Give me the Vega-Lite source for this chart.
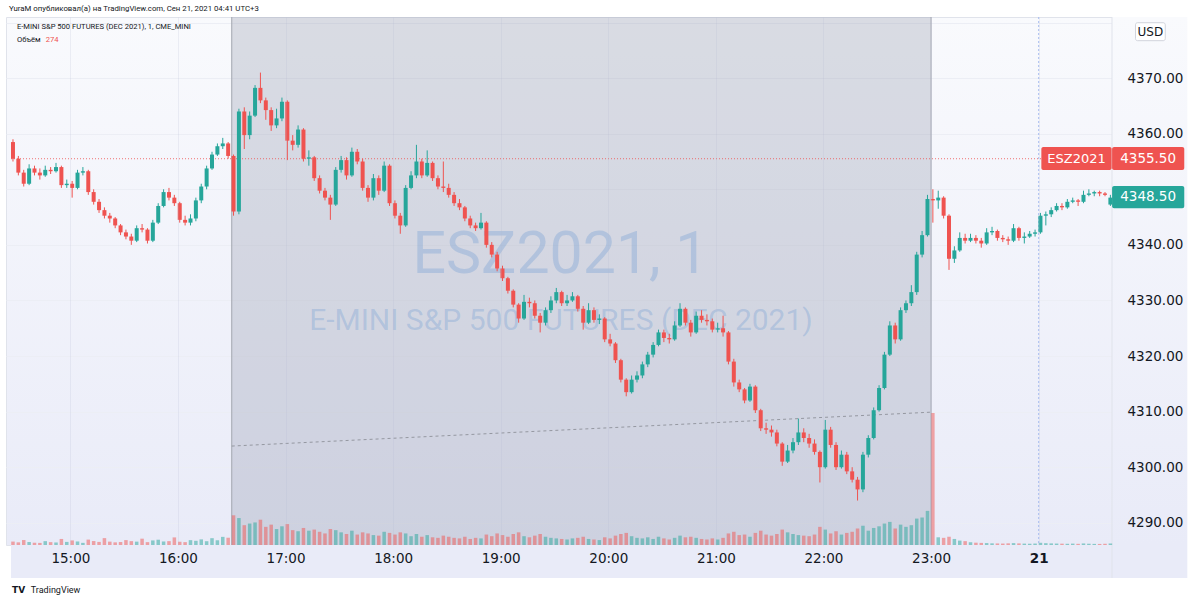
{
"$schema":"https://vega.github.io/schema/vega-lite/v6.json",
"width":1111,"height":528,
"autosize":{"type":"none"},
"padding":{"left":6,"top":17,"right":83,"bottom":56},
"background":"#ffffff",
"config":{"view":{"fill":{"gradient":"linear","x1":0,"y1":0,"x2":0,"y2":1,"stops":[{"offset":0,"color":"#f9fafd"},{"offset":1,"color":"#e9ebf8"}]},"stroke":"#e0e3eb"},"font":"DejaVu Sans"},
"resolve":{"scale":{"y":"independent"}},
"datasets":{
"one":[{}],
"trend":[{"m":150,"p":4303.8},{"m":540,"p":4309.9}],
"candles":[
{"m":28,"o":4358.5,"h":4359,"l":4355,"c":4355.5,"v":620},
{"m":31,"o":4355.5,"h":4356,"l":4352.5,"c":4353,"v":480},
{"m":34,"o":4353,"h":4353.5,"l":4350.5,"c":4351,"v":900},
{"m":37,"o":4351,"h":4354.5,"l":4350.75,"c":4353.75,"v":540},
{"m":40,"o":4353.75,"h":4354.25,"l":4352.5,"c":4353,"v":410},
{"m":43,"o":4353,"h":4353.75,"l":4351.75,"c":4352.5,"v":380},
{"m":46,"o":4352.5,"h":4354.25,"l":4352.25,"c":4353.5,"v":700},
{"m":49,"o":4353.5,"h":4354,"l":4352.75,"c":4353.25,"v":520},
{"m":52,"o":4353.25,"h":4354.75,"l":4353,"c":4354,"v":460},
{"m":55,"o":4354,"h":4354.25,"l":4350.25,"c":4350.75,"v":1100},
{"m":58,"o":4350.75,"h":4351.75,"l":4350.25,"c":4351,"v":560},
{"m":61,"o":4351,"h":4351.5,"l":4348.5,"c":4350.25,"v":830},
{"m":64,"o":4350.25,"h":4353.5,"l":4350,"c":4353,"v":640},
{"m":67,"o":4353,"h":4354,"l":4352.5,"c":4353.25,"v":390},
{"m":70,"o":4353.25,"h":4353.5,"l":4349,"c":4349.5,"v":980},
{"m":73,"o":4349.5,"h":4350,"l":4347.25,"c":4347.75,"v":720},
{"m":76,"o":4347.75,"h":4348.25,"l":4345.75,"c":4346.25,"v":560},
{"m":79,"o":4346.25,"h":4346.75,"l":4344.75,"c":4345.25,"v":1250},
{"m":82,"o":4345.25,"h":4345.75,"l":4344,"c":4344.75,"v":610},
{"m":85,"o":4344.75,"h":4345,"l":4343,"c":4343.5,"v":480},
{"m":88,"o":4343.5,"h":4343.75,"l":4341.75,"c":4342.25,"v":540},
{"m":91,"o":4342.25,"h":4342.75,"l":4341,"c":4341.5,"v":890},
{"m":94,"o":4341.5,"h":4342,"l":4340,"c":4340.75,"v":700},
{"m":97,"o":4340.75,"h":4343.5,"l":4340.5,"c":4343,"v":610},
{"m":100,"o":4343,"h":4343.75,"l":4342.25,"c":4342.75,"v":1150},
{"m":103,"o":4342.75,"h":4343,"l":4340.25,"c":4340.75,"v":520},
{"m":106,"o":4340.75,"h":4344.5,"l":4340.5,"c":4344,"v":830},
{"m":109,"o":4344,"h":4347.5,"l":4343.75,"c":4347,"v":960},
{"m":112,"o":4347,"h":4350,"l":4346.75,"c":4349.5,"v":640},
{"m":115,"o":4349.5,"h":4350.25,"l":4348,"c":4348.5,"v":700},
{"m":118,"o":4348.5,"h":4349,"l":4347,"c":4347.5,"v":1380},
{"m":121,"o":4347.5,"h":4347.75,"l":4344,"c":4344.5,"v":590},
{"m":124,"o":4344.5,"h":4345.25,"l":4343.5,"c":4344,"v":520},
{"m":127,"o":4344,"h":4345.5,"l":4343.5,"c":4344.75,"v":880},
{"m":130,"o":4344.75,"h":4348.5,"l":4344.25,"c":4348,"v":760},
{"m":133,"o":4348,"h":4351,"l":4347.5,"c":4350.5,"v":1020},
{"m":136,"o":4350.5,"h":4354.25,"l":4350,"c":4353.75,"v":690},
{"m":139,"o":4353.75,"h":4356.75,"l":4353.5,"c":4356.25,"v":1240},
{"m":142,"o":4356.25,"h":4358.25,"l":4356,"c":4357.75,"v":860},
{"m":145,"o":4357.75,"h":4359.25,"l":4357.25,"c":4358.25,"v":1480},
{"m":148,"o":4358.25,"h":4358.5,"l":4355.5,"c":4356,"v":1320},
{"m":151,"o":4356,"h":4356.25,"l":4345.25,"c":4346,"v":5400},
{"m":154,"o":4346,"h":4364.5,"l":4345.5,"c":4364,"v":4900},
{"m":157,"o":4364,"h":4364.75,"l":4357.25,"c":4359.75,"v":3600},
{"m":160,"o":4359.75,"h":4364,"l":4359,"c":4363.25,"v":3900},
{"m":163,"o":4363.25,"h":4368.75,"l":4363,"c":4368.25,"v":4100},
{"m":166,"o":4368.25,"h":4371,"l":4365.5,"c":4366,"v":4600},
{"m":169,"o":4366,"h":4366.5,"l":4362.5,"c":4364.25,"v":3300},
{"m":172,"o":4364.25,"h":4364.75,"l":4360.5,"c":4361.5,"v":3700},
{"m":175,"o":4361.5,"h":4364.5,"l":4361,"c":4362.75,"v":2900},
{"m":178,"o":4362.75,"h":4366.5,"l":4362.25,"c":4365.75,"v":3400},
{"m":181,"o":4365.75,"h":4366,"l":4355.25,"c":4358.75,"v":3800},
{"m":184,"o":4358.75,"h":4359.75,"l":4357,"c":4358,"v":2700},
{"m":187,"o":4358,"h":4361.5,"l":4357.5,"c":4360.75,"v":2500},
{"m":190,"o":4360.75,"h":4361,"l":4355,"c":4355.5,"v":3100},
{"m":193,"o":4355.5,"h":4357,"l":4354.25,"c":4355.75,"v":2600},
{"m":196,"o":4355.75,"h":4356,"l":4351.5,"c":4352,"v":2800},
{"m":199,"o":4352,"h":4352.5,"l":4349.25,"c":4349.75,"v":2400},
{"m":202,"o":4349.75,"h":4350.25,"l":4348,"c":4348.5,"v":2100},
{"m":205,"o":4348.5,"h":4349,"l":4344.5,"c":4347.25,"v":2900},
{"m":208,"o":4347.25,"h":4354,"l":4347,"c":4353.5,"v":2700},
{"m":211,"o":4353.5,"h":4356,"l":4353,"c":4355.25,"v":2300},
{"m":214,"o":4355.25,"h":4355.75,"l":4351.75,"c":4352.5,"v":2000},
{"m":217,"o":4352.5,"h":4357.5,"l":4352.25,"c":4356.75,"v":2600},
{"m":220,"o":4356.75,"h":4357.25,"l":4354.5,"c":4355,"v":1900},
{"m":223,"o":4355,"h":4355.5,"l":4349.75,"c":4350.25,"v":2300},
{"m":226,"o":4350.25,"h":4350.75,"l":4347.75,"c":4348.5,"v":2100},
{"m":229,"o":4348.5,"h":4352.75,"l":4348,"c":4352,"v":1800},
{"m":232,"o":4352,"h":4352.5,"l":4349,"c":4349.75,"v":1700},
{"m":235,"o":4349.75,"h":4355,"l":4349.5,"c":4354.25,"v":2400},
{"m":238,"o":4354.25,"h":4354.5,"l":4347,"c":4347.5,"v":2200},
{"m":241,"o":4347.5,"h":4348,"l":4344.75,"c":4345.25,"v":1900},
{"m":244,"o":4345.25,"h":4345.75,"l":4342,"c":4343.5,"v":2300},
{"m":247,"o":4343.5,"h":4350.75,"l":4343.25,"c":4350.25,"v":2100},
{"m":250,"o":4350.25,"h":4353.25,"l":4350,"c":4352.5,"v":1600},
{"m":253,"o":4352.5,"h":4358,"l":4352,"c":4355,"v":2000},
{"m":256,"o":4355,"h":4355.5,"l":4352,"c":4352.5,"v":1500},
{"m":259,"o":4352.5,"h":4357,"l":4352.25,"c":4354.75,"v":1800},
{"m":262,"o":4354.75,"h":4355,"l":4351.5,"c":4352,"v":1400},
{"m":265,"o":4352,"h":4352.5,"l":4350,"c":4350.5,"v":1300},
{"m":268,"o":4350.5,"h":4355,"l":4349.5,"c":4350.25,"v":1700},
{"m":271,"o":4350.25,"h":4351,"l":4348.5,"c":4349,"v":1500},
{"m":274,"o":4349,"h":4349.5,"l":4347,"c":4347.5,"v":1300},
{"m":277,"o":4347.5,"h":4348.25,"l":4346.25,"c":4346.75,"v":1200},
{"m":280,"o":4346.75,"h":4347,"l":4344.25,"c":4344.75,"v":1500},
{"m":283,"o":4344.75,"h":4345.25,"l":4343,"c":4343.5,"v":1100},
{"m":286,"o":4343.5,"h":4344,"l":4342.5,"c":4343,"v":1300},
{"m":289,"o":4343,"h":4345.75,"l":4342.75,"c":4344,"v":1200},
{"m":292,"o":4344,"h":4344.25,"l":4339.5,"c":4340,"v":1900},
{"m":295,"o":4340,"h":4340.5,"l":4337.75,"c":4338.25,"v":1600},
{"m":298,"o":4338.25,"h":4338.75,"l":4335.25,"c":4335.75,"v":2100},
{"m":301,"o":4335.75,"h":4336.25,"l":4333.5,"c":4334,"v":1800},
{"m":304,"o":4334,"h":4334.25,"l":4331.25,"c":4331.75,"v":1500},
{"m":307,"o":4331.75,"h":4332,"l":4328.75,"c":4329.25,"v":2000},
{"m":310,"o":4329.25,"h":4329.5,"l":4326,"c":4326.75,"v":2300},
{"m":313,"o":4326.75,"h":4331,"l":4326.5,"c":4329.75,"v":1600},
{"m":316,"o":4329.75,"h":4330.5,"l":4328.75,"c":4329.5,"v":1400},
{"m":319,"o":4329.5,"h":4330,"l":4326.75,"c":4327.25,"v":1700},
{"m":322,"o":4327.25,"h":4327.75,"l":4324.25,"c":4326,"v":2000},
{"m":325,"o":4326,"h":4328.75,"l":4325.5,"c":4328.25,"v":1500},
{"m":328,"o":4328.25,"h":4330.75,"l":4327.75,"c":4330,"v":1300},
{"m":331,"o":4330,"h":4332.25,"l":4329.5,"c":4331.5,"v":1200},
{"m":334,"o":4331.5,"h":4331.75,"l":4329,"c":4329.5,"v":1100},
{"m":337,"o":4329.5,"h":4331,"l":4329,"c":4330,"v":1000},
{"m":340,"o":4330,"h":4331.5,"l":4329.75,"c":4330.75,"v":1200},
{"m":343,"o":4330.75,"h":4331,"l":4328,"c":4328.5,"v":1300},
{"m":346,"o":4328.5,"h":4329,"l":4324.75,"c":4326,"v":1500},
{"m":349,"o":4326,"h":4329.5,"l":4325.75,"c":4328.25,"v":1100},
{"m":352,"o":4328.25,"h":4328.75,"l":4326,"c":4326.5,"v":1000},
{"m":355,"o":4326.5,"h":4327.5,"l":4325.75,"c":4326.75,"v":900},
{"m":358,"o":4326.75,"h":4327,"l":4322.5,"c":4323,"v":1400},
{"m":361,"o":4323,"h":4324,"l":4321.75,"c":4322.25,"v":1200},
{"m":364,"o":4322.25,"h":4322.5,"l":4318.75,"c":4319.25,"v":1700},
{"m":367,"o":4319.25,"h":4319.5,"l":4315.25,"c":4315.75,"v":2000},
{"m":370,"o":4315.75,"h":4316,"l":4312.75,"c":4313.5,"v":2200},
{"m":373,"o":4313.5,"h":4316.5,"l":4313.25,"c":4315.75,"v":1600},
{"m":376,"o":4315.75,"h":4317.25,"l":4315.25,"c":4316.5,"v":1300},
{"m":379,"o":4316.5,"h":4319,"l":4316,"c":4318.5,"v":1200},
{"m":382,"o":4318.5,"h":4320.75,"l":4318,"c":4320.25,"v":1400},
{"m":385,"o":4320.25,"h":4322.5,"l":4319.75,"c":4322,"v":1100},
{"m":388,"o":4322,"h":4324.75,"l":4321.75,"c":4324.25,"v":1500},
{"m":391,"o":4324.25,"h":4324.75,"l":4322.5,"c":4323.25,"v":1200},
{"m":394,"o":4323.25,"h":4324,"l":4322.25,"c":4323,"v":1000},
{"m":397,"o":4323,"h":4326.25,"l":4322.75,"c":4325.5,"v":1300},
{"m":400,"o":4325.5,"h":4329.5,"l":4325.25,"c":4328.5,"v":1700},
{"m":403,"o":4328.5,"h":4328.75,"l":4325.5,"c":4326,"v":1400},
{"m":406,"o":4326,"h":4326.5,"l":4323.5,"c":4324.25,"v":1500},
{"m":409,"o":4324.25,"h":4328,"l":4324,"c":4327.25,"v":1300},
{"m":412,"o":4327.25,"h":4328.25,"l":4326,"c":4326.5,"v":1100},
{"m":415,"o":4326.5,"h":4327.5,"l":4325.5,"c":4326.25,"v":1000},
{"m":418,"o":4326.25,"h":4326.75,"l":4324.25,"c":4324.75,"v":1200},
{"m":421,"o":4324.75,"h":4326,"l":4324.25,"c":4325,"v":1000},
{"m":424,"o":4325,"h":4327.25,"l":4323.5,"c":4324.25,"v":1300},
{"m":427,"o":4324.25,"h":4324.5,"l":4318.5,"c":4319,"v":2100},
{"m":430,"o":4319,"h":4319.5,"l":4314.5,"c":4315.25,"v":2400},
{"m":433,"o":4315.25,"h":4315.75,"l":4313.5,"c":4314,"v":1800},
{"m":436,"o":4314,"h":4314.25,"l":4311.5,"c":4312,"v":1900},
{"m":439,"o":4312,"h":4315,"l":4311.75,"c":4314.5,"v":1500},
{"m":442,"o":4314.5,"h":4314.75,"l":4309.75,"c":4310.25,"v":2200},
{"m":445,"o":4310.25,"h":4310.5,"l":4306.5,"c":4307,"v":2600},
{"m":448,"o":4307,"h":4308,"l":4306,"c":4306.75,"v":1900},
{"m":451,"o":4306.75,"h":4307.5,"l":4305.5,"c":4306.25,"v":1700},
{"m":454,"o":4306.25,"h":4306.75,"l":4303.75,"c":4304.25,"v":2000},
{"m":457,"o":4304.25,"h":4304.5,"l":4300.25,"c":4301,"v":2800},
{"m":460,"o":4301,"h":4304,"l":4300.75,"c":4303,"v":2300},
{"m":463,"o":4303,"h":4305.25,"l":4302.5,"c":4304.5,"v":2000},
{"m":466,"o":4304.5,"h":4308.75,"l":4304,"c":4306.25,"v":1800},
{"m":469,"o":4306.25,"h":4307,"l":4304.5,"c":4305.25,"v":1700},
{"m":472,"o":4305.25,"h":4306,"l":4303.5,"c":4304.25,"v":1600},
{"m":475,"o":4304.25,"h":4305,"l":4302.25,"c":4302.75,"v":1900},
{"m":478,"o":4302.75,"h":4303,"l":4297.25,"c":4300,"v":3300},
{"m":481,"o":4300,"h":4308.5,"l":4299.75,"c":4306.75,"v":2800},
{"m":484,"o":4306.75,"h":4307.25,"l":4303.5,"c":4304,"v":2100},
{"m":487,"o":4304,"h":4304.5,"l":4299.5,"c":4300,"v":2500},
{"m":490,"o":4300,"h":4303,"l":4299.75,"c":4302.25,"v":1900},
{"m":493,"o":4302.25,"h":4302.75,"l":4298.75,"c":4299.25,"v":2200},
{"m":496,"o":4299.25,"h":4300,"l":4297.25,"c":4297.75,"v":2400},
{"m":499,"o":4297.75,"h":4298.25,"l":4294,"c":4296,"v":3000},
{"m":502,"o":4296,"h":4302.75,"l":4295.5,"c":4302.25,"v":3500},
{"m":505,"o":4302.25,"h":4305.75,"l":4301.75,"c":4305.25,"v":2600},
{"m":508,"o":4305.25,"h":4310.75,"l":4305,"c":4310.25,"v":3100},
{"m":511,"o":4310.25,"h":4314.75,"l":4310,"c":4314.25,"v":3400},
{"m":514,"o":4314.25,"h":4320.75,"l":4314,"c":4320.25,"v":3900},
{"m":517,"o":4320.25,"h":4326.25,"l":4320,"c":4325.5,"v":4200},
{"m":520,"o":4325.5,"h":4326,"l":4322.25,"c":4323,"v":3000},
{"m":523,"o":4323,"h":4328.75,"l":4322.75,"c":4328.25,"v":3700},
{"m":526,"o":4328.25,"h":4330,"l":4327.75,"c":4329.5,"v":3300},
{"m":529,"o":4329.5,"h":4332.75,"l":4329,"c":4331.5,"v":3600},
{"m":532,"o":4331.5,"h":4338.75,"l":4331,"c":4338.25,"v":4800},
{"m":535,"o":4338.25,"h":4342.5,"l":4337.75,"c":4341.75,"v":5000},
{"m":538,"o":4341.75,"h":4349,"l":4341.5,"c":4348.25,"v":6200},
{"m":541,"o":4348.25,"h":4350,"l":4344,"c":4348,"v":24000},
{"m":544,"o":4348,"h":4349.75,"l":4346.5,"c":4348.5,"v":1400},
{"m":547,"o":4348.5,"h":4348.75,"l":4344.75,"c":4345.25,"v":1300},
{"m":550,"o":4345.25,"h":4345.5,"l":4335.5,"c":4337.5,"v":1500},
{"m":553,"o":4337.5,"h":4339.75,"l":4336.75,"c":4339,"v":1100},
{"m":556,"o":4339,"h":4342.25,"l":4338.75,"c":4341.25,"v":800},
{"m":559,"o":4341.25,"h":4342,"l":4340.25,"c":4340.75,"v":700},
{"m":562,"o":4340.75,"h":4342,"l":4340.5,"c":4341.25,"v":500},
{"m":565,"o":4341.25,"h":4341.75,"l":4340.25,"c":4340.75,"v":420},
{"m":568,"o":4340.75,"h":4341.25,"l":4339.5,"c":4340.25,"v":380},
{"m":571,"o":4340.25,"h":4343,"l":4340,"c":4342.25,"v":350},
{"m":574,"o":4342.25,"h":4343.25,"l":4341.75,"c":4342.5,"v":300},
{"m":577,"o":4342.5,"h":4342.75,"l":4340.75,"c":4341.25,"v":280},
{"m":580,"o":4341.25,"h":4341.75,"l":4340.5,"c":4341,"v":260},
{"m":583,"o":4341,"h":4341.5,"l":4340,"c":4340.75,"v":300},
{"m":586,"o":4340.75,"h":4343.75,"l":4340.5,"c":4343,"v":340},
{"m":589,"o":4343,"h":4343.25,"l":4340.75,"c":4341.25,"v":290},
{"m":592,"o":4341.25,"h":4342.25,"l":4340.25,"c":4341.5,"v":250},
{"m":595,"o":4341.5,"h":4342.5,"l":4341.25,"c":4342,"v":230},
{"m":598,"o":4342,"h":4342.75,"l":4341.5,"c":4342.25,"v":260},
{"m":601,"o":4342.25,"h":4345.75,"l":4342,"c":4345.25,"v":400},
{"m":604,"o":4345.25,"h":4346,"l":4343.5,"c":4345.5,"v":330},
{"m":607,"o":4345.5,"h":4346.75,"l":4345,"c":4346.25,"v":290},
{"m":610,"o":4346.25,"h":4347.5,"l":4346,"c":4347,"v":260},
{"m":613,"o":4347,"h":4347.5,"l":4346.25,"c":4346.75,"v":240},
{"m":616,"o":4346.75,"h":4348.25,"l":4346.5,"c":4347.75,"v":220},
{"m":619,"o":4347.75,"h":4348.5,"l":4347.5,"c":4348,"v":250},
{"m":622,"o":4348,"h":4348.25,"l":4347,"c":4347.75,"v":210},
{"m":625,"o":4347.75,"h":4349.75,"l":4347.5,"c":4349,"v":280},
{"m":628,"o":4349,"h":4350,"l":4348.75,"c":4349.25,"v":230},
{"m":631,"o":4349.25,"h":4349.75,"l":4348.75,"c":4349.5,"v":200},
{"m":634,"o":4349.5,"h":4349.75,"l":4348.75,"c":4349.25,"v":190},
{"m":637,"o":4349.25,"h":4349.5,"l":4348.75,"c":4349,"v":220},
{"m":640,"o":4347.25,"h":4349,"l":4347,"c":4348.5,"v":274}
]},
"layer":[
{"data":{"name":"one"},
 "mark":{"type":"rect","clip":false,"fill":{"gradient":"linear","x1":0,"y1":0,"x2":0,"y2":1,"stops":[{"offset":0,"color":"#f9fafd"},{"offset":1,"color":"#e9ebf8"}]}},
 "encoding":{
  "x":{"datum":640.9,"type":"quantitative","scale":{"domain":[26.9,640.9],"nice":false,"zero":false},
   "axis":{"orient":"bottom","title":null,"grid":true,"gridColor":"#b4bad2","gridOpacity":0.2,"ticks":false,"domain":false,"values":[60,120,180,240,300,360,420,480,540,600],"labelExpr":"datum.value == 600 ? '21' : (floor(datum.value / 60) + 14) + ':00'","labelFont":"DejaVu Sans","labelFontSize":13.5,"labelColor":"#131722","labelPadding":6,"labelOverlap":false,"labelFlush":false,"labelFontWeight":{"condition":{"test":"datum.value == 600","value":"bold"},"value":"normal"},"zindex":1}},
  "x2":{"datum":682.9},
  "y":{"datum":4381,"type":"quantitative","scale":{"domain":[4286,4381],"nice":false,"zero":false},
   "axis":{"orient":"left","title":null,"grid":true,"gridColor":"#eceef5","labels":false,"ticks":false,"domain":false,"values":[4290,4300,4310,4320,4330,4340,4350,4360,4370,4380],"zindex":0}},
  "y2":{"datum":4286}}},
{"data":{"name":"one"},
 "mark":{"type":"rect","clip":false,"fill":"#e9ebf8"},
 "encoding":{
  "x":{"datum":26.9,"type":"quantitative","scale":{"domain":[26.9,640.9],"nice":false,"zero":false}},
  "x2":{"datum":682.9},
  "y":{"datum":4286,"type":"quantitative","scale":{"domain":[4286,4381],"nice":false,"zero":false},"axis":null},
  "y2":{"datum":4280.06}}},
{"data":{"name":"one"},
 "mark":{"type":"rule","clip":false,"color":"#e0e3eb"},
 "encoding":{
  "x":{"datum":640.9,"type":"quantitative","scale":{"domain":[26.9,640.9],"nice":false,"zero":false}},
  "y":{"datum":4381,"type":"quantitative","scale":{"domain":[4286,4381],"nice":false,"zero":false},"axis":null},
  "y2":{"datum":4280.06}}},
{"data":{"name":"one"},
 "mark":{"type":"rect","fill":"#8e94a8","fillOpacity":0.3},
 "encoding":{
  "x":{"datum":150,"type":"quantitative","scale":{"domain":[26.9,640.9],"nice":false,"zero":false}},
  "x2":{"datum":540},
  "y":{"datum":4381,"type":"quantitative","scale":{"domain":[4286,4381],"nice":false,"zero":false},"axis":null},
  "y2":{"datum":4286}}},
{"data":{"name":"one"},
 "mark":{"type":"rule","color":"#a3a6b0"},
 "encoding":{"x":{"datum":150,"type":"quantitative","scale":{"domain":[26.9,640.9],"nice":false,"zero":false}}}},
{"data":{"name":"one"},
 "mark":{"type":"rule","color":"#a3a6b0"},
 "encoding":{"x":{"datum":540,"type":"quantitative","scale":{"domain":[26.9,640.9],"nice":false,"zero":false}}}},
{"data":{"name":"one"},
 "mark":{"type":"rule","color":"#a9bdf0","strokeDash":[2,2]},
 "encoding":{"x":{"datum":600,"type":"quantitative","scale":{"domain":[26.9,640.9],"nice":false,"zero":false}}}},
{"data":{"name":"one"},
 "mark":{"type":"text","text":"ESZ2021, 1","font":"Roboto","fontSize":59,"align":"center","baseline":"alphabetic","fill":"#6495d2","fillOpacity":0.3},
 "encoding":{
  "x":{"datum":333.35,"type":"quantitative","scale":{"domain":[26.9,640.9],"nice":false,"zero":false}},
  "y":{"datum":4334.94,"type":"quantitative","scale":{"domain":[4286,4381],"nice":false,"zero":false},"axis":null}}},
{"data":{"name":"one"},
 "mark":{"type":"text","text":"E-MINI S&P 500 FUTURES (DEC 2021)","font":"Roboto","fontSize":30,"align":"center","baseline":"alphabetic","fill":"#6495d2","fillOpacity":0.3},
 "encoding":{
  "x":{"datum":333.6,"type":"quantitative","scale":{"domain":[26.9,640.9],"nice":false,"zero":false}},
  "y":{"datum":4324.68,"type":"quantitative","scale":{"domain":[4286,4381],"nice":false,"zero":false},"axis":null}}},
{"data":{"name":"trend"},
 "mark":{"type":"line","color":"#9598a1","strokeDash":[3,3],"strokeWidth":1},
 "encoding":{
  "x":{"field":"m","type":"quantitative","scale":{"domain":[26.9,640.9],"nice":false,"zero":false}},
  "y":{"field":"p","type":"quantitative","scale":{"domain":[4286,4381],"nice":false,"zero":false},"axis":null}}},
{"data":{"name":"candles"},
 "mark":{"type":"bar","orient":"vertical","size":3.5,"opacity":0.5},
 "encoding":{
  "x":{"field":"m","type":"quantitative","scale":{"domain":[26.9,640.9],"nice":false,"zero":false}},
  "y":{"field":"v","type":"quantitative","scale":{"domain":[0,96000],"nice":false},"axis":null},
  "y2":{"datum":0},
  "color":{"condition":{"test":"datum.c >= datum.o","value":"#26a69a"},"value":"#ef5350"}}},
{"data":{"name":"one"},
 "mark":{"type":"rule","color":"#ef5350","strokeDash":[1,2],"opacity":0.8},
 "encoding":{
  "x":{"datum":26.9,"type":"quantitative","scale":{"domain":[26.9,640.9],"nice":false,"zero":false}},
  "x2":{"datum":640.9},
  "y":{"datum":4355.5,"type":"quantitative","scale":{"domain":[4286,4381],"nice":false,"zero":false},
   "axis":{"orient":"right","title":null,"grid":false,"ticks":false,"domain":false,"values":[4290,4300,4310,4320,4330,4340,4360,4370],"format":".2f","labelFont":"DejaVu Sans","labelFontSize":13.5,"labelColor":"#131722","labelPadding":10,"labelOverlap":false,"labelFlush":false,"zindex":1}}}},
{"data":{"name":"candles"},
 "mark":{"type":"rule","strokeWidth":1},
 "encoding":{
  "x":{"field":"m","type":"quantitative","scale":{"domain":[26.9,640.9],"nice":false,"zero":false}},
  "y":{"field":"l","type":"quantitative","scale":{"domain":[4286,4381],"nice":false,"zero":false},"axis":null},
  "y2":{"field":"h"},
  "color":{"condition":{"test":"datum.c >= datum.o","value":"#26a69a"},"value":"#ef5350"}}},
{"data":{"name":"candles"},
 "mark":{"type":"bar","orient":"vertical","size":4},
 "encoding":{
  "x":{"field":"m","type":"quantitative","scale":{"domain":[26.9,640.9],"nice":false,"zero":false}},
  "y":{"field":"o","type":"quantitative","scale":{"domain":[4286,4381],"nice":false,"zero":false},"axis":null},
  "y2":{"field":"c"},
  "color":{"condition":{"test":"datum.c >= datum.o","value":"#26a69a"},"value":"#ef5350"}}},
{"data":{"name":"one"},
 "mark":{"type":"text","text":"E-MINI S&P 500 FUTURES (DEC 2021), 1, CME_MINI","font":"Roboto","fontSize":7.6,"align":"left","baseline":"alphabetic","fill":"#131722"},
 "encoding":{
  "x":{"datum":30.2,"type":"quantitative","scale":{"domain":[26.9,640.9],"nice":false,"zero":false}},
  "y":{"datum":4378.79,"type":"quantitative","scale":{"domain":[4286,4381],"nice":false,"zero":false},"axis":null}}},
{"data":{"name":"one"},
 "mark":{"type":"text","text":"Объём","font":"Roboto","fontSize":7.6,"align":"left","baseline":"alphabetic","fill":"#131722"},
 "encoding":{
  "x":{"datum":30.2,"type":"quantitative","scale":{"domain":[26.9,640.9],"nice":false,"zero":false}},
  "y":{"datum":4376.5,"type":"quantitative","scale":{"domain":[4286,4381],"nice":false,"zero":false},"axis":null}}},
{"data":{"name":"one"},
 "mark":{"type":"text","text":"274","font":"Roboto","fontSize":7.6,"align":"left","baseline":"alphabetic","fill":"#ef5350"},
 "encoding":{
  "x":{"datum":46.3,"type":"quantitative","scale":{"domain":[26.9,640.9],"nice":false,"zero":false}},
  "y":{"datum":4376.5,"type":"quantitative","scale":{"domain":[4286,4381],"nice":false,"zero":false},"axis":null}}},
{"data":{"name":"one"},
 "mark":{"type":"text","clip":false,"text":"YuraM опубликовал(а) на TradingView.com, Сен 21, 2021 04:41 UTC+3","font":"Roboto","fontSize":7.8,"align":"left","baseline":"alphabetic","fill":"#131722"},
 "encoding":{
  "x":{"datum":25.8,"type":"quantitative","scale":{"domain":[26.9,640.9],"nice":false,"zero":false}},
  "y":{"datum":4381.99,"type":"quantitative","scale":{"domain":[4286,4381],"nice":false,"zero":false},"axis":null}}},
{"data":{"name":"one"},
 "mark":{"type":"text","clip":false,"text":"TV","font":"DejaVu Sans","fontWeight":"bold","fontSize":9,"align":"left","baseline":"alphabetic","fill":"#131722"},
 "encoding":{
  "x":{"datum":27.45,"type":"quantitative","scale":{"domain":[26.9,640.9],"nice":false,"zero":false}},
  "y":{"datum":4277.36,"type":"quantitative","scale":{"domain":[4286,4381],"nice":false,"zero":false},"axis":null}}},
{"data":{"name":"one"},
 "mark":{"type":"text","clip":false,"text":"TradingView","font":"Roboto","fontSize":9,"align":"left","baseline":"alphabetic","fill":"#131722"},
 "encoding":{
  "x":{"datum":37.95,"type":"quantitative","scale":{"domain":[26.9,640.9],"nice":false,"zero":false}},
  "y":{"datum":4277.36,"type":"quantitative","scale":{"domain":[4286,4381],"nice":false,"zero":false},"axis":null}}},
{"data":{"name":"one"},
 "mark":{"type":"rect","clip":false,"fill":"#ef5350","cornerRadius":2},
 "encoding":{
  "x":{"datum":601.5,"type":"quantitative","scale":{"domain":[26.9,640.9],"nice":false,"zero":false}},
  "x2":{"datum":640.7},
  "y":{"datum":4357.61,"type":"quantitative","scale":{"domain":[4286,4381],"nice":false,"zero":false},"axis":null},
  "y2":{"datum":4353.47}}},
{"data":{"name":"one"},
 "mark":{"type":"rect","clip":false,"fill":"#ef5350","cornerRadius":2},
 "encoding":{
  "x":{"datum":640.95,"type":"quantitative","scale":{"domain":[26.9,640.9],"nice":false,"zero":false}},
  "x2":{"datum":681.2},
  "y":{"datum":4357.61,"type":"quantitative","scale":{"domain":[4286,4381],"nice":false,"zero":false},"axis":null},
  "y2":{"datum":4353.47}}},
{"data":{"name":"one"},
 "mark":{"type":"rect","clip":false,"fill":"#26a69a","cornerRadius":2},
 "encoding":{
  "x":{"datum":640.95,"type":"quantitative","scale":{"domain":[26.9,640.9],"nice":false,"zero":false}},
  "x2":{"datum":681.2},
  "y":{"datum":4350.59,"type":"quantitative","scale":{"domain":[4286,4381],"nice":false,"zero":false},"axis":null},
  "y2":{"datum":4346.58}}},
{"data":{"name":"one"},
 "mark":{"type":"rect","clip":false,"fill":"#ffffff","stroke":"#d1d4dc","strokeWidth":1,"cornerRadius":2},
 "encoding":{
  "x":{"datum":654.0,"type":"quantitative","scale":{"domain":[26.9,640.9],"nice":false,"zero":false}},
  "x2":{"datum":670.6},
  "y":{"datum":4379.97,"type":"quantitative","scale":{"domain":[4286,4381],"nice":false,"zero":false},"axis":null},
  "y2":{"datum":4376.74}}},
{"data":{"name":"one"},
 "mark":{"type":"text","clip":false,"text":"ESZ2021","font":"DejaVu Sans","fontSize":13,"align":"center","baseline":"middle","fill":"#ffffff"},
 "encoding":{
  "x":{"datum":621.1,"type":"quantitative","scale":{"domain":[26.9,640.9],"nice":false,"zero":false}},
  "y":{"datum":4355.5,"type":"quantitative","scale":{"domain":[4286,4381],"nice":false,"zero":false},"axis":null}}},
{"data":{"name":"one"},
 "mark":{"type":"text","clip":false,"text":"4355.50","font":"DejaVu Sans","fontSize":13.5,"align":"center","baseline":"middle","fill":"#ffffff"},
 "encoding":{
  "x":{"datum":661.05,"type":"quantitative","scale":{"domain":[26.9,640.9],"nice":false,"zero":false}},
  "y":{"datum":4355.5,"type":"quantitative","scale":{"domain":[4286,4381],"nice":false,"zero":false},"axis":null}}},
{"data":{"name":"one"},
 "mark":{"type":"text","clip":false,"text":"4348.50","font":"DejaVu Sans","fontSize":13.5,"align":"center","baseline":"middle","fill":"#ffffff"},
 "encoding":{
  "x":{"datum":661.05,"type":"quantitative","scale":{"domain":[26.9,640.9],"nice":false,"zero":false}},
  "y":{"datum":4348.55,"type":"quantitative","scale":{"domain":[4286,4381],"nice":false,"zero":false},"axis":null}}},
{"data":{"name":"one"},
 "mark":{"type":"text","clip":false,"text":"USD","font":"DejaVu Sans","fontSize":12,"align":"center","baseline":"middle","fill":"#131722"},
 "encoding":{
  "x":{"datum":662.3,"type":"quantitative","scale":{"domain":[26.9,640.9],"nice":false,"zero":false}},
  "y":{"datum":4378.36,"type":"quantitative","scale":{"domain":[4286,4381],"nice":false,"zero":false},"axis":null}}}
]
}
